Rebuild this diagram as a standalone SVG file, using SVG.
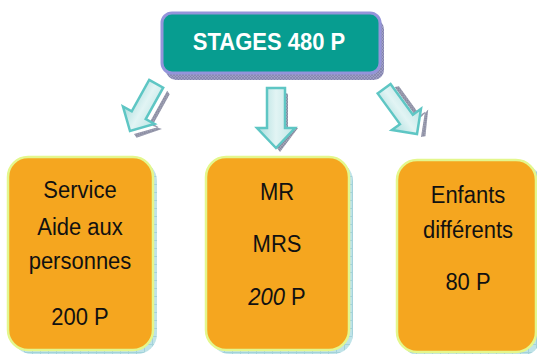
<svg xmlns="http://www.w3.org/2000/svg" width="537" height="354" viewBox="0 0 537 354">
<defs>
<style>
.box{fill:#F5A61F;stroke:#E4F78C;stroke-width:2.5}
.bshadow{fill:url(#blueGrid)}
.txt{font-family:"Liberation Sans",Arial,sans-serif;font-size:22px;fill:#111;text-anchor:middle}
.title{font-family:"Liberation Sans",Arial,sans-serif;font-weight:bold;font-size:22px;fill:#fff;text-anchor:middle}
.arrow{fill:url(#arrowGrad);stroke:#5EC6C4;stroke-width:2.5;stroke-linejoin:miter}
.ashadow{fill:url(#greyHatch)}
</style>
<pattern id="blueGrid" width="8" height="8" patternUnits="userSpaceOnUse">
<rect width="8" height="8" fill="#BFE3E8"/>
<path d="M0 0.5H8M0.5 0V8" stroke="#A3D2DA" stroke-width="1"/>
</pattern>
<pattern id="greyHatch" width="3" height="3" patternUnits="userSpaceOnUse">
<rect width="3" height="3" fill="#A2A4B6"/>
<path d="M0 0L3 3M3 0L0 3" stroke="#7E8096" stroke-width="0.6"/>
</pattern>
<pattern id="lavHatch" width="3" height="3" patternUnits="userSpaceOnUse">
<rect width="3" height="3" fill="#9E9EC4"/>
<path d="M0 0L3 3M3 0L0 3" stroke="#7A7AA6" stroke-width="0.6"/>
</pattern>
<linearGradient id="arrowGrad" x1="0" y1="0" x2="1" y2="0">
<stop offset="0" stop-color="#A9DDDC"/>
<stop offset="0.5" stop-color="#E2F4F4"/>
<stop offset="1" stop-color="#BEE6E5"/>
</linearGradient>
</defs>

<g id="top">
<rect x="166" y="19" width="218" height="61" rx="10" fill="url(#lavHatch)"/>
<rect x="162" y="13" width="218" height="60" rx="10" fill="#079D90" stroke="#9494DA" stroke-width="3"/>
<text class="title" transform="translate(269,50) scale(1,1.1)">STAGES 480 P</text>
</g>

<g id="connectors">
<g transform="translate(134,134) rotate(29)">
<path class="ashadow" d="M8,-54 L12,-52 L12,-16 L22,-18 L4,2 L0,0 L18,-18 L8,-18 Z"/>
</g>
<path class="arrow" transform="translate(130,131) rotate(29)" d="M-8,-54 L8,-54 L8,-18 L18,-18 L0,0 L-18,-18 L-8,-18 Z"/>

<path class="ashadow" d="M284,92 L288,94 L288,128 L298,128 L280,152 L277,148 L294,128 L284,128 Z"/>
<path class="arrow" d="M267,88 L285,88 L285,128 L295,128 L276,148 L257,128 L267,128 Z"/>

<g transform="translate(421,137) rotate(-36)">
<path class="ashadow" d="M8,-56 L12,-54 L12,-16 L22,-18 L4,2 L0,0 L18,-18 L8,-18 Z"/>
</g>
<path class="arrow" transform="translate(417,134) rotate(-36)" d="M-8,-56 L8,-56 L8,-18 L18,-18 L0,0 L-18,-18 L-8,-18 Z"/>
</g>

<g id="box-service">
<rect class="bshadow" x="12" y="161" width="145" height="193" rx="20"/>
<rect class="box" x="8" y="157" width="145" height="193" rx="20"/>
<text class="txt" transform="translate(80,198) scale(1,1.12)">Service</text>
<text class="txt" transform="translate(80,235) scale(1,1.12)">Aide aux</text>
<text class="txt" transform="translate(80,269) scale(1,1.12)">personnes</text>
<text class="txt" transform="translate(80,325) scale(1,1.12)">200 P</text>
</g>

<g id="box-mr">
<rect class="bshadow" x="210" y="161" width="143" height="193" rx="20"/>
<rect class="box" x="206" y="157" width="143" height="193" rx="20"/>
<text class="txt" transform="translate(277,200) scale(1,1.12)">MR</text>
<text class="txt" transform="translate(277,252) scale(1,1.12)">MRS</text>
<text class="txt" transform="translate(277,305) scale(1,1.12)"><tspan font-style="italic">200</tspan> P</text>
</g>

<g id="box-enfants">
<rect class="bshadow" x="401" y="164" width="140" height="192" rx="20"/>
<rect class="box" x="397" y="160" width="139" height="192" rx="20"/>
<text class="txt" transform="translate(468,203) scale(1,1.12)">Enfants</text>
<text class="txt" transform="translate(468,238) scale(1,1.12)">différents</text>
<text class="txt" transform="translate(468,290) scale(1,1.12)">80 P</text>
</g>
</svg>
